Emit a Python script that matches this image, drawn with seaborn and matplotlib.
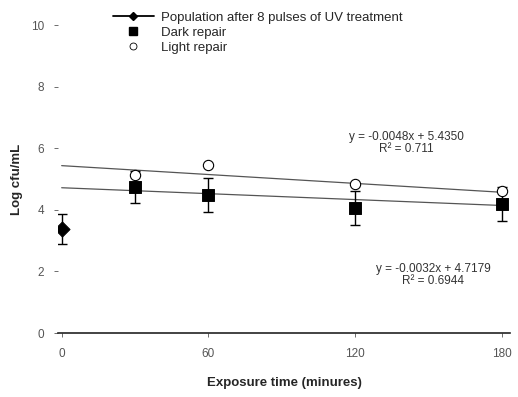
import numpy as np
import pandas as pd
import matplotlib
matplotlib.use("Agg")
import matplotlib.pyplot as plt
import seaborn as sns
from matplotlib.lines import Line2D

# --- adatok (leolvasva) ---
pop_time = [0]
pop_log = [3.38]
pop_err = [0.48]

dark_time = [30, 60, 120, 180]
dark_log = [4.74, 4.48, 4.05, 4.18]
dark_err = [0.52, 0.55, 0.55, 0.55]

light_time = [30, 60, 120, 180]
light_log = [5.13, 5.45, 4.85, 4.60]

# trendvonalak (Excel egyenletek)
trend_x = [0, 180]
light_fit = [-0.0048, 5.4350]
dark_fit = [-0.0032, 4.7179]
light_eq = "y = -0.0048x + 5.4350\nR² = 0.711"
dark_eq = "y = -0.0032x + 4.7179\nR² = 0.6944"

x_ticks = [0, 60, 120, 180]
y_ticks = [0, 2, 4, 6, 8, 10]

sns.set_style("white")
plt.rcParams['font.family'] = ['Liberation Sans', 'DejaVu Sans']

fig = plt.figure(figsize=(5.18, 3.97), dpi=100)
ax = fig.add_axes([0.112, 0.161, 0.873, 0.776])

# --- trendvonalak ---
tx = np.array(trend_x)
ax.plot(tx, light_fit[0] * tx + light_fit[1], color="#555555", lw=0.9, zorder=1)
ax.plot(tx, dark_fit[0] * tx + dark_fit[1], color="#555555", lw=0.9, zorder=1)

# --- hibasávok ---
ax.errorbar(pop_time, pop_log, yerr=pop_err, fmt="none", ecolor="black",
            elinewidth=1, capsize=3.5, zorder=2)
ax.errorbar(dark_time, dark_log, yerr=dark_err, fmt="none", ecolor="black",
            elinewidth=1, capsize=3.5, zorder=2)

# --- pontok ---
sns.scatterplot(x=pop_time, y=pop_log, marker="D", s=60, color="black",
                edgecolor="black", ax=ax, zorder=3)
sns.scatterplot(x=dark_time, y=dark_log, marker="s", s=70, color="black",
                edgecolor="black", ax=ax, zorder=3)
sns.scatterplot(x=light_time, y=light_log, marker="o", s=55, color="white",
                edgecolor="black", linewidth=0.8, ax=ax, zorder=4)

# --- egyenletek ---
ax.text(141, 6.18, light_eq, fontsize=8.5, ha="center", va="center",
        color="#333333", linespacing=1.0)
ax.text(152, 1.9, dark_eq, fontsize=8.5, ha="center", va="center",
        color="#333333", linespacing=1.0)

# --- tengelyek ---
ax.set_xlim(-1.5, 183.5)
ax.set_ylim(0, 10)
ax.set_xticks(x_ticks)
ax.set_yticks(y_ticks)
ax.tick_params(axis="both", labelsize=8.5, colors="#555555", length=3,
               width=0.6, direction="out", left=True, bottom=True)
ax.tick_params(axis="x", pad=8)
ax.tick_params(axis="y", pad=7)
for s in ["top", "right", "left"]:
    ax.spines[s].set_visible(False)
ax.spines["bottom"].set_color("#222222")
ax.spines["bottom"].set_linewidth(1.2)
ax.set_xlabel("Exposure time (minures)", fontsize=9.5, fontweight="bold",
              labelpad=12)
ax.set_ylabel("Log cfu/mL", fontsize=9.5, fontweight="bold", labelpad=6)

# --- jelmagyarázat ---
handles = [
    Line2D([], [], color="black", marker="D", markersize=4, lw=1.3),
    Line2D([], [], color="black", marker="s", markersize=5.5, lw=0),
    Line2D([], [], color="black", marker="o", markersize=5, lw=0,
           markerfacecolor="white", markeredgewidth=0.6),
]
labels = ["Population after 8 pulses of UV treatment", "Dark repair",
          "Light repair"]
ax.legend(handles, labels, loc="upper left", bbox_to_anchor=(0.11, 1.06),
          frameon=False, fontsize=9.5, handlelength=3.1, handletextpad=0.5,
          labelspacing=0.2, borderaxespad=0)

fig.savefig("out.png", dpi=100)
